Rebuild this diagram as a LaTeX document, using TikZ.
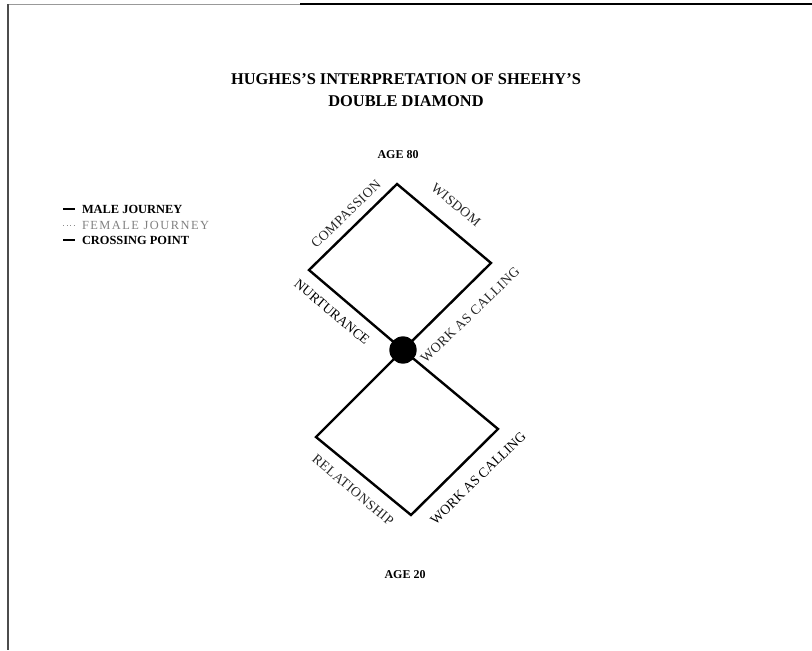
\documentclass[tikz,border=0pt]{standalone}
\usepackage{fontspec}
\setmainfont{Liberation Serif}
\usetikzlibrary{positioning}
\newcommand{\lbf}{\fontsize{10.3}{12}\selectfont}
\newcommand{\lgf}{\fontsize{9.3}{11}\selectfont}
\newcommand{\agef}{\fontsize{9}{11}\selectfont\bfseries}

\begin{document}
\begin{tikzpicture}[x=0.75pt, y=-0.75pt, every node/.style={inner sep=0pt, outer sep=0pt},
  edgeline/.style={black, line width=1.8pt},
  lab/.style={font=\lbf\addfontfeature{LetterSpace=3}, text=black!85},
  labm/.style={font=\lbf, text=black},
  legm/.style={font=\lgf\bfseries, anchor=west},
  legf/.style={font=\lgf\addfontfeature{LetterSpace=12}, text=black!50, anchor=west}]
\useasboundingbox (0,0) rectangle (812,650);
% ---- frame
\draw[black!40, line width=0.6pt] (8,4) -- (300,4);
\draw[black, line width=1.2pt] (300,4) -- (812,4);
\draw[black!70, line width=0.8pt] (8,4) -- (8,650);
% ---- title
\node[font=\fontsize{12.3}{16.5}\selectfont\bfseries, align=center] (title) at (406,90)
  {HUGHES'S INTERPRETATION OF SHEEHY'S\\DOUBLE DIAMOND};
\node[font=\agef] (age80) at (398,155) {AGE 80};
\node[font=\agef] (age20) at (405,575) {AGE 20};
% ---- legend
\node[legm] (male) at (82,209) {MALE JOURNEY};
\node[legf] (female) at (82,225) {FEMALE JOURNEY};
\node[legm] (crossing) at (82,240) {CROSSING POINT};
\draw[black, line width=1pt] ([xshift=-14pt]male.west) -- ([xshift=-5pt]male.west);
\draw[black!45, line width=0.6pt, dotted] ([xshift=-14pt]female.west) -- ([xshift=-5pt]female.west);
\draw[black, line width=1pt] ([xshift=-14pt]crossing.west) -- ([xshift=-5pt]crossing.west);
% ---- double diamond
\coordinate (top) at (397,184);
\coordinate (uleft) at (309,270);
\coordinate (uright) at (491,263);
\coordinate (lleft) at (316,437);
\coordinate (lright) at (498,429);
\coordinate (bottom) at (411,515);
\node[circle, fill=black, minimum size=20.5pt] (cross) at (403,350) {};
\draw[edgeline] (cross.center) -- (uleft) -- (top) -- (uright) -- (cross.center);
\draw[edgeline] (cross.center) -- (lleft) -- (bottom) -- (lright) -- (cross.center);
% ---- edge labels
\node[lab, rotate=44] (compassion) at (346,214) {COMPASSION};
\node[lab, rotate=-40] (wisdom) at (456,205) {WISDOM};
\node[labm, rotate=-40] (nurturance) at (332,312) {NURTURANCE};
\node[lab, rotate=44] (workup) at (470,315) {WORK AS CALLING};
\node[lab, rotate=-40] (relationship) at (353,490) {RELATIONSHIP};
\node[labm, rotate=44] (worklow) at (478,478) {WORK AS CALLING};
\end{tikzpicture}
\end{document}
